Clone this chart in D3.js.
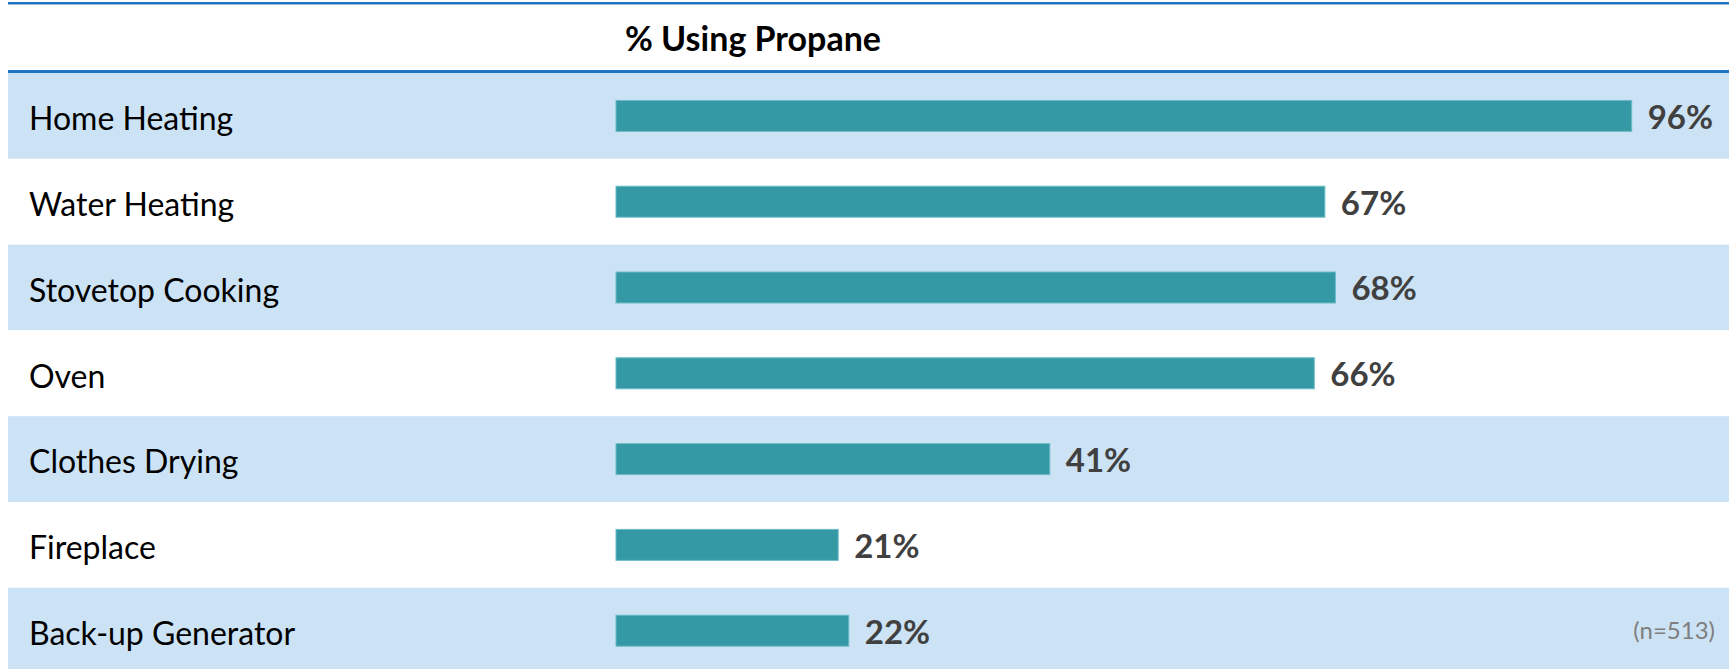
<!DOCTYPE html>
<html>
<head>
<meta charset="utf-8">
<script src="https://cdn.jsdelivr.net/npm/d3@7/dist/d3.min.js"></script>
<style>
  html, body { margin: 0; padding: 0; background: #fff; }
  svg { display: block; }
</style>
</head>
<body>
<div id="chart"></div>
<script>
const categories = ["Home Heating", "Water Heating", "Stovetop Cooking", "Oven",
                    "Clothes Drying", "Fireplace", "Back-up Generator"];
const values     = [96, 67, 68, 66, 41, 21, 22];
const headerText = "% Using Propane";
const baseText   = "(n=513)";

const WIDTH    = 1729;
const HEIGHT   = 669;
const LEFT     = 8;
const TABLE_TOP = 73;
const ROW_H    = 85.8;
const BAR_X0   = 616;
const PX_PER_PCT = 10.58;

const svg = d3.select("#chart").append("svg")
    .attr("width", WIDTH)
    .attr("height", HEIGHT);

const x = d3.scaleLinear().domain([0, 100]).range([BAR_X0, BAR_X0 + 100 * PX_PER_PCT]);
const y = d3.scaleBand()
    .domain(categories)
    .range([TABLE_TOP, TABLE_TOP + ROW_H * categories.length])
    .paddingInner(0);

// alternating row bands
svg.selectAll(".band")
    .data(categories)
    .join("rect")
    .attr("class", "band")
    .attr("x", LEFT)
    .attr("y", d => y(d))
    .attr("width", WIDTH - LEFT)
    .attr("height", y.bandwidth())
    .attr("fill", (d, i) => i % 2 === 0 ? "#cce2f5" : "#ffffff");

// rules at top and below header
svg.append("rect").attr("x", LEFT).attr("y", 2).attr("width", WIDTH - LEFT).attr("height", 2.5).attr("fill", "#1f74c6");
svg.append("rect").attr("x", LEFT).attr("y", 70).attr("width", WIDTH - LEFT).attr("height", 3).attr("fill", "#1f74c6");

// header
svg.append("text")
    .attr("x", 753)
    .attr("y", 51)
    .attr("text-anchor", "middle")
    .attr("font-family", "Lato, sans-serif")
    .attr("font-weight", "bold")
    .attr("font-size", 34)
    .attr("fill", "#000")
    .text(headerText);

// row labels
svg.selectAll(".label")
    .data(categories)
    .join("text")
    .attr("class", "label")
    .attr("x", 29)
    .attr("y", d => y(d) + y.bandwidth() / 2 + 3)
    .attr("dy", "0.35em")
    .attr("font-family", "Lato, sans-serif")
    .attr("font-size", 32)
    .attr("fill", "#000")
    .text(d => d);

const BAR_H = 31;

svg.selectAll(".bar")
    .data(values)
    .join("rect")
    .attr("class", "bar")
    .attr("x", x(0))
    .attr("y", (d, i) => y(categories[i]) + y.bandwidth() / 2 - BAR_H / 2)
    .attr("width", d => x(d) - x(0))
    .attr("height", BAR_H)
    .attr("fill", "#3599a5")
    .attr("stroke", "#6cbcc6")
    .attr("stroke-width", 1);

svg.selectAll(".value")
    .data(values)
    .join("text")
    .attr("class", "value")
    .attr("x", d => x(d) + 16)
    .attr("y", (d, i) => y(categories[i]) + y.bandwidth() / 2 + 1)
    .attr("dy", "0.36em")
    .attr("font-family", "Lato, sans-serif")
    .attr("font-weight", "bold")
    .attr("font-size", 33)
    .attr("fill", "#404040")
    .text(d => d + "%");

svg.append("text")
    .attr("x", 1715)
    .attr("y", 639)
    .attr("text-anchor", "end")
    .attr("font-family", "Lato, sans-serif")
    .attr("font-size", 24)
    .attr("fill", "#7f7f7f")
    .text(baseText);
</script>
</body>
</html>
